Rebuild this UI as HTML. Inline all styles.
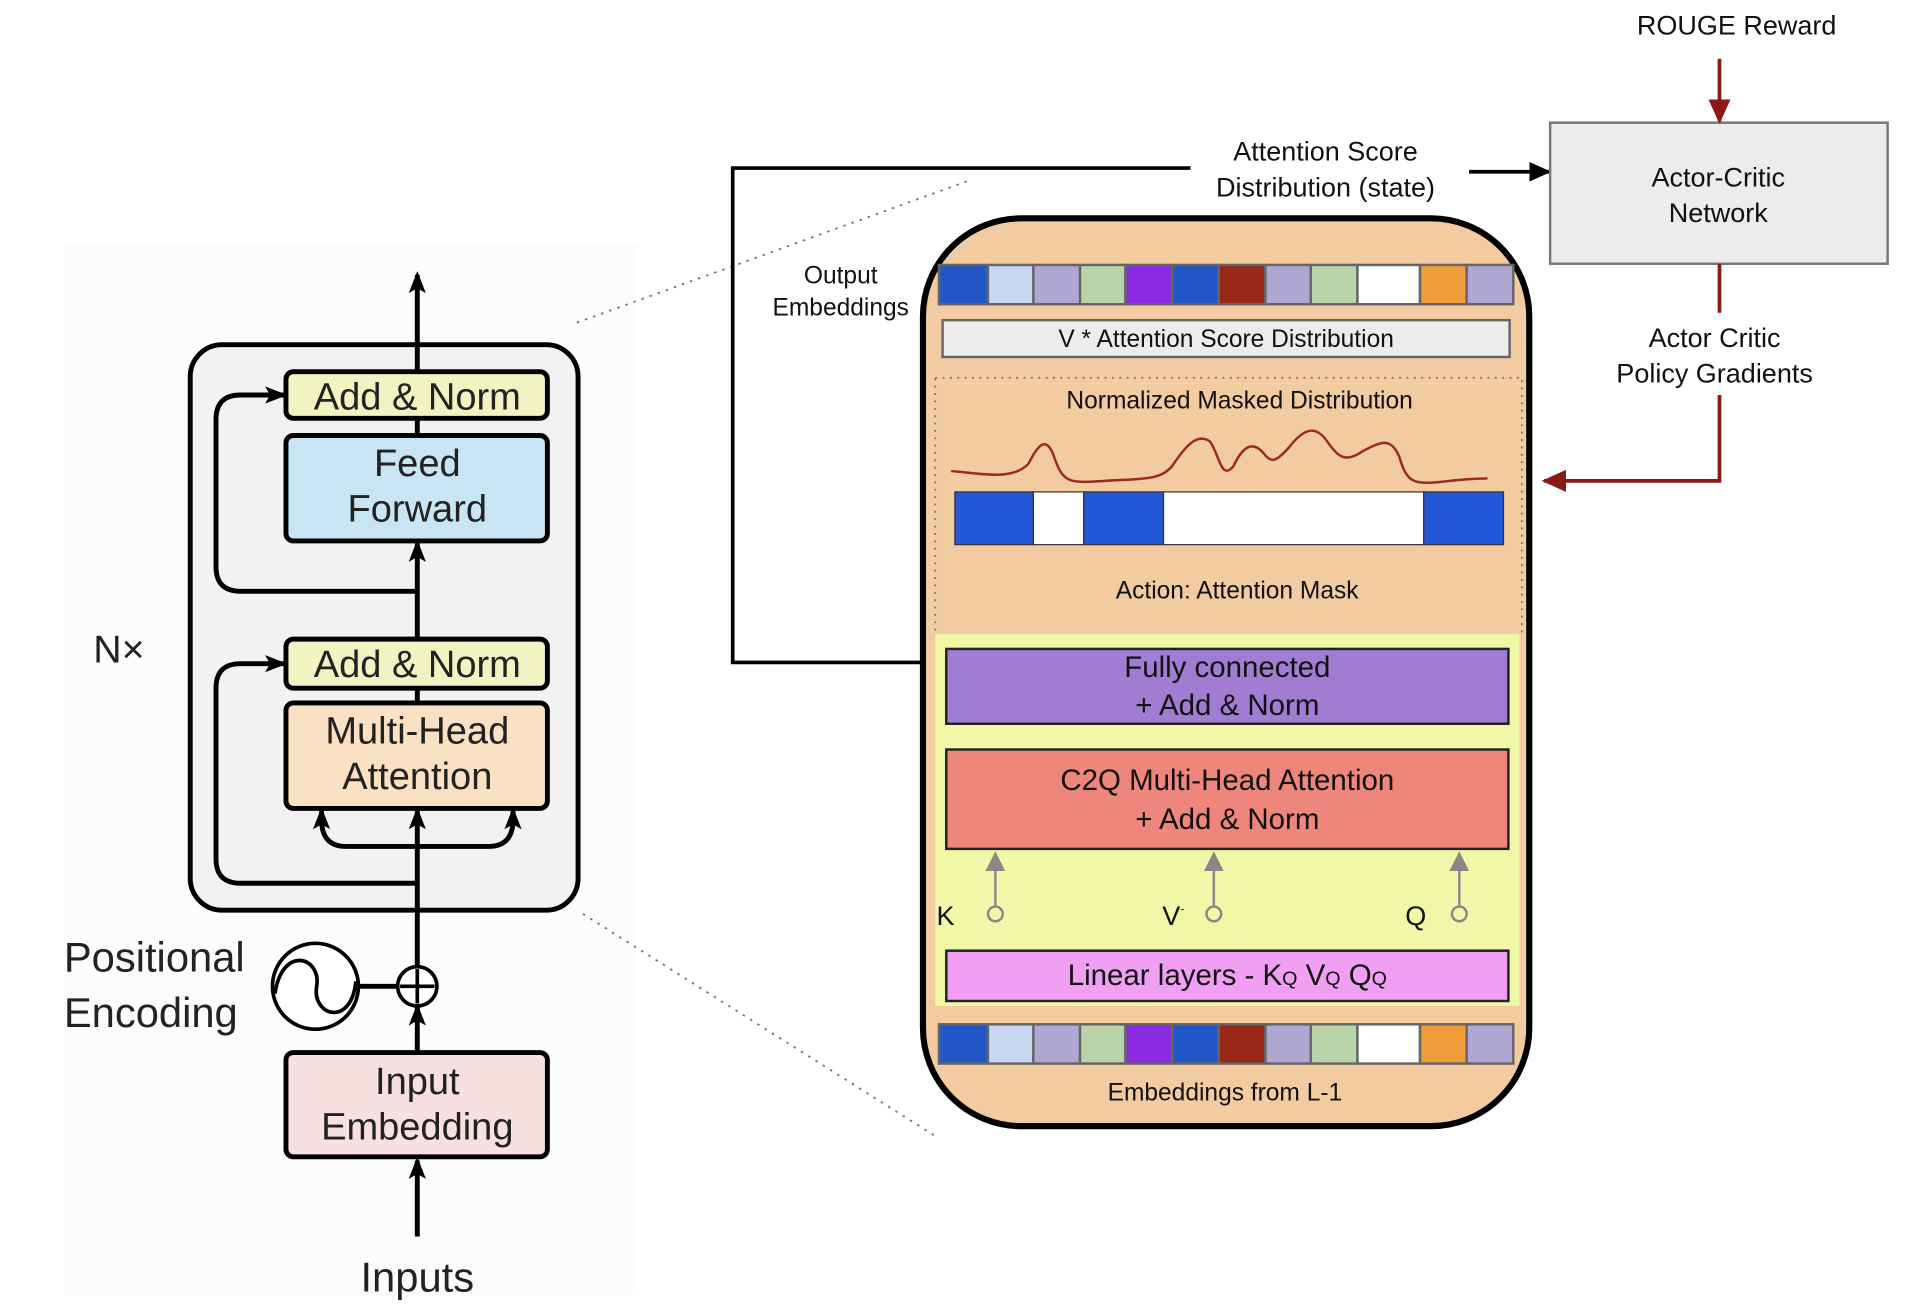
<!DOCTYPE html>
<html><head><meta charset="utf-8"><style>
html,body{margin:0;padding:0;background:#fff;}
svg{display:block;}
text{font-family:"Liberation Sans",sans-serif;fill:#111;}
.big{font-size:31px;fill:#222;}
</style></head><body>
<svg width="1922" height="1304" viewBox="0 0 1566 1063" preserveAspectRatio="none" xmlns="http://www.w3.org/2000/svg">
<defs>
<marker id="ab" markerWidth="18" markerHeight="14" refX="15" refY="7" orient="auto" markerUnits="userSpaceOnUse"><path d="M0,0 L18,7 L0,14 L4,7 z" fill="#000"/></marker>
<marker id="abl" markerWidth="18" markerHeight="16" refX="16" refY="8" orient="auto" markerUnits="userSpaceOnUse"><path d="M0,0 L18,8 L0,16 z" fill="#000"/></marker>
<marker id="ar" markerWidth="20" markerHeight="18" refX="18" refY="9" orient="auto" markerUnits="userSpaceOnUse"><path d="M0,0 L20,9 L0,18 z" fill="#8b1a14"/></marker>
<marker id="ag" markerWidth="16" markerHeight="18" refX="14" refY="8" orient="auto" markerUnits="userSpaceOnUse"><path d="M0,0 L16,8 L0,16 z" fill="#888"/></marker>
</defs>
<rect x="52" y="198" width="468" height="858" fill="#fcfcfc"/>
<line x1="470" y1="263" x2="790" y2="147" stroke="#777" stroke-width="1.5" stroke-dasharray="2,5"/>
<line x1="475" y1="745" x2="765" y2="928" stroke="#777" stroke-width="1.5" stroke-dasharray="2,5"/>
<rect x="155" y="281" width="316" height="461" rx="26" fill="#f2f2f2" stroke="#000" stroke-width="4"/>
<g stroke="#000" stroke-width="4" fill="none">
<line x1="340" y1="303" x2="340" y2="224" marker-end="url(#ab)"/>
<line x1="340" y1="355" x2="340" y2="341"/>
<line x1="340" y1="521" x2="340" y2="443" marker-end="url(#ab)"/>
<line x1="340" y1="573" x2="340" y2="561"/>
<line x1="340" y1="788" x2="340" y2="661" marker-end="url(#ab)"/>
<path d="M340,482 H196 Q176,482 176,462 V342 Q176,322 196,322 H231" marker-end="url(#ab)"/>
<path d="M340,720 H196 Q176,720 176,700 V561 Q176,541 196,541 H231" marker-end="url(#ab)"/>
<path d="M340,690 H282 Q262,690 262,668 V661" marker-end="url(#ab)"/>
<path d="M340,690 H398 Q418,690 418,668 V661" marker-end="url(#ab)"/>
<line x1="340" y1="858" x2="340" y2="821" marker-end="url(#ab)"/>
<line x1="340" y1="1008" x2="340" y2="946" marker-end="url(#ab)"/>
<line x1="292" y1="804" x2="324" y2="804"/>
</g>
<circle cx="340" cy="804" r="16" fill="#fff" stroke="#000" stroke-width="3"/>
<path d="M340,790 V818 M326,804 H354" stroke="#000" stroke-width="3"/>
<circle cx="257" cy="804" r="35" fill="#fff" stroke="#000" stroke-width="3"/>
<path d="M224,810 C230,770 262,780 258,804 C254,828 286,838 290,800" fill="none" stroke="#000" stroke-width="3"/>
<rect x="233" y="303" width="213" height="38" rx="6" fill="#f2f3c3" stroke="#000" stroke-width="4"/>
<rect x="233" y="355" width="213" height="86" rx="6" fill="#c7e5f3" stroke="#000" stroke-width="4"/>
<rect x="233" y="521" width="213" height="40" rx="6" fill="#f2f3c3" stroke="#000" stroke-width="4"/>
<rect x="233" y="573" width="213" height="86" rx="6" fill="#fbe1c3" stroke="#000" stroke-width="4"/>
<rect x="233" y="858" width="213" height="85" rx="6" fill="#f7e0e0" stroke="#000" stroke-width="4"/>
<g class="big" text-anchor="middle">
<text x="340" y="334" class="big">Add &amp; Norm</text>
<text x="340" y="388" class="big">Feed</text>
<text x="340" y="425" class="big">Forward</text>
<text x="340" y="552" class="big">Add &amp; Norm</text>
<text x="340" y="606" class="big">Multi-Head</text>
<text x="340" y="643" class="big">Attention</text>
<text x="340" y="892" class="big">Input</text>
<text x="340" y="929" class="big">Embedding</text>
<text x="340" y="1053" class="big" style="font-size:34px">Inputs</text>
</g>
<text x="76" y="540" style="font-size:32px;fill:#222">N×</text>
<text x="52" y="792" style="font-size:34px;fill:#222">Positional</text>
<text x="52" y="837" style="font-size:34px;fill:#222">Encoding</text>
<path d="M970,137 H597 V540 H752" fill="none" stroke="#000" stroke-width="3"/>
<line x1="1197" y1="140" x2="1262" y2="140" stroke="#000" stroke-width="3" marker-end="url(#abl)"/>
<text x="1080" y="131" text-anchor="middle" style="font-size:22px">Attention Score</text>
<text x="1080" y="160" text-anchor="middle" style="font-size:22px">Distribution (state)</text>
<rect x="1263" y="100" width="275" height="115" fill="#ececec" stroke="#777" stroke-width="2"/>
<text x="1400" y="152" text-anchor="middle" style="font-size:22px">Actor-Critic</text>
<text x="1400" y="181" text-anchor="middle" style="font-size:22px">Network</text>
<text x="1415" y="28" text-anchor="middle" style="font-size:22px">ROUGE Reward</text>
<line x1="1401" y1="48" x2="1401" y2="99" stroke="#8b1a14" stroke-width="3" marker-end="url(#ar)"/>
<line x1="1401" y1="215" x2="1401" y2="255" stroke="#8b1a14" stroke-width="3"/>
<text x="1397" y="283" text-anchor="middle" style="font-size:22px">Actor Critic</text>
<text x="1397" y="312" text-anchor="middle" style="font-size:22px">Policy Gradients</text>
<path d="M1401,322 V392 H1258" fill="none" stroke="#8b1a14" stroke-width="3" marker-end="url(#ar)"/>
<text x="685" y="231" text-anchor="middle" style="font-size:20px">Output</text>
<text x="685" y="257" text-anchor="middle" style="font-size:20px">Embeddings</text>
<rect x="752" y="178" width="494" height="740" rx="80" fill="#f2cba0" stroke="#000" stroke-width="5"/>
<g stroke="#666" stroke-width="2">
<rect x="765" y="216" width="40" height="32" fill="#2356c6"/>
<rect x="805" y="216" width="37" height="32" fill="#c9d8f2"/>
<rect x="842" y="216" width="38" height="32" fill="#b0a6d2"/>
<rect x="880" y="216" width="37" height="32" fill="#b9d4a9"/>
<rect x="917" y="216" width="38" height="32" fill="#8a2be2"/>
<rect x="955" y="216" width="38" height="32" fill="#2356c6"/>
<rect x="993" y="216" width="38" height="32" fill="#982817"/>
<rect x="1031" y="216" width="37" height="32" fill="#b0a6d2"/>
<rect x="1068" y="216" width="38" height="32" fill="#b9d4a9"/>
<rect x="1106" y="216" width="51" height="32" fill="#ffffff"/>
<rect x="1157" y="216" width="38" height="32" fill="#f09c38"/>
<rect x="1195" y="216" width="38" height="32" fill="#b0a6d2"/>
</g>
<g stroke="#666" stroke-width="2" transform="translate(0,619)">
<rect x="765" y="216" width="40" height="32" fill="#2356c6"/>
<rect x="805" y="216" width="37" height="32" fill="#c9d8f2"/>
<rect x="842" y="216" width="38" height="32" fill="#b0a6d2"/>
<rect x="880" y="216" width="37" height="32" fill="#b9d4a9"/>
<rect x="917" y="216" width="38" height="32" fill="#8a2be2"/>
<rect x="955" y="216" width="38" height="32" fill="#2356c6"/>
<rect x="993" y="216" width="38" height="32" fill="#982817"/>
<rect x="1031" y="216" width="37" height="32" fill="#b0a6d2"/>
<rect x="1068" y="216" width="38" height="32" fill="#b9d4a9"/>
<rect x="1106" y="216" width="51" height="32" fill="#ffffff"/>
<rect x="1157" y="216" width="38" height="32" fill="#f09c38"/>
<rect x="1195" y="216" width="38" height="32" fill="#b0a6d2"/>
</g>
<rect x="768" y="261" width="462" height="30" fill="#ececec" stroke="#666" stroke-width="2"/>
<text x="999" y="283" text-anchor="middle" style="font-size:20px">V * Attention Score Distribution</text>
<rect x="762" y="308" width="478" height="210" fill="none" stroke="#777" stroke-width="1.5" stroke-dasharray="1.5,4.5"/>
<text x="1010" y="333" text-anchor="middle" style="font-size:20px">Normalized Masked Distribution</text>
<path d="M775,384 C800,386 825,392 838,378 C846,362 852,356 858,370 C866,394 870,394 900,392 C930,390 945,392 955,380 C965,365 975,352 986,360 C994,372 995,392 1005,380 C1012,365 1020,358 1030,370 C1036,378 1040,376 1050,365 C1060,352 1070,345 1080,358 C1090,372 1095,378 1110,368 C1125,360 1133,356 1140,372 C1146,392 1150,395 1172,393 C1190,391 1200,390 1212,390" fill="none" stroke="#9b2a20" stroke-width="2"/>
<g stroke="#333" stroke-width="1">
<rect x="778" y="401" width="64" height="43" fill="#2356d9"/>
<rect x="842" y="401" width="41" height="43" fill="#fff"/>
<rect x="883" y="401" width="65" height="43" fill="#2356d9"/>
<rect x="948" y="401" width="212" height="43" fill="#fff"/>
<rect x="1160" y="401" width="65" height="43" fill="#2356d9"/>
</g>
<text x="1008" y="488" text-anchor="middle" style="font-size:20px">Action: Attention Mask</text>
<rect x="762" y="517" width="476" height="303" fill="#f0f8a8"/>
<rect x="771" y="529" width="458" height="61" fill="#a07cd2" stroke="#222" stroke-width="2"/>
<text x="1000" y="552" text-anchor="middle" style="font-size:24px">Fully connected</text>
<text x="1000" y="583" text-anchor="middle" style="font-size:24px">+ Add &amp; Norm</text>
<rect x="771" y="611" width="458" height="81" fill="#ef867c" stroke="#222" stroke-width="2"/>
<text x="1000" y="644" text-anchor="middle" style="font-size:24px">C2Q Multi-Head Attention</text>
<text x="1000" y="676" text-anchor="middle" style="font-size:24px">+ Add &amp; Norm</text>
<g stroke="#888" stroke-width="2" fill="#f0f8a8">
<line x1="811" y1="739" x2="811" y2="696" marker-end="url(#ag)"/>
<line x1="989" y1="739" x2="989" y2="696" marker-end="url(#ag)"/>
<line x1="1189" y1="739" x2="1189" y2="696" marker-end="url(#ag)"/>
<circle cx="811" cy="745" r="6"/><circle cx="989" cy="745" r="6"/><circle cx="1189" cy="745" r="6"/>
</g>
<text x="763" y="754" style="font-size:22px">K</text>
<text x="947" y="754" style="font-size:22px">V<tspan style="font-size:10px" dy="-10">-</tspan></text>
<text x="1145" y="754" style="font-size:22px">Q</text>
<rect x="771" y="775" width="458" height="41" fill="#f19ff3" stroke="#222" stroke-width="2"/>
<text x="1000" y="803" text-anchor="middle" style="font-size:24px">Linear layers - K<tspan style="font-size:16px">Q</tspan> V<tspan style="font-size:16px">Q</tspan> Q<tspan style="font-size:16px">Q</tspan></text>
<text x="998" y="897" text-anchor="middle" style="font-size:20px">Embeddings from L-1</text>
</svg>
</body></html>
